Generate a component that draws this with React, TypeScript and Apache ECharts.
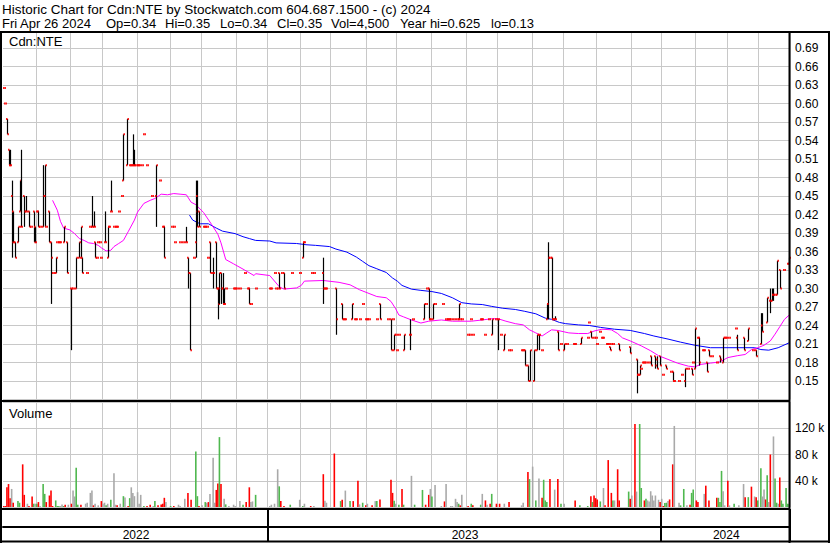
import React, { useEffect, useRef } from "react";
import * as echarts from "echarts";

// ---------- data ----------
const firstDay = "2022-05-02";
const lastDay = "2024-04-26";
const holidays = [
  "2022-05-23", "2022-07-01", "2022-08-01", "2022-09-05", "2022-10-10", "2022-12-26", "2022-12-27",
  "2023-01-02", "2023-02-20", "2023-04-07", "2023-05-22", "2023-07-03", "2023-08-07", "2023-09-04",
  "2023-10-09", "2023-12-25", "2023-12-26", "2024-01-01", "2024-02-19", "2024-03-29",
];

const headerTitle = "Historic Chart for Cdn:NTE by Stockwatch.com 604.687.1500 - (c) 2024";
const headerFields = ["Fri Apr 26 2024", "Op=0.34", "Hi=0.35", "Lo=0.34", "Cl=0.35", "Vol=4,500", "Year hi=0.625", "lo=0.13"];
const symbolLabel = "Cdn:NTE";
const volumeLabel = "Volume";

// price axis: 0.15 .. 0.69 step 0.03 ; volume axis 40 k .. 120 k
const priceMin = 0.12;
const priceMax = 0.716;
const priceStep = 0.03;
const volMax = 160000;
const volStep = 40000;

// [dayIndex, close] for single-price days, or [dayIndex, open, high, low, close]
const priceBars: number[][] = [
  [0, .625], [1, .60], [2, .575, .575, .55, .55], [3, .525, .525, .50, .50], [4, .50, .525, .50, .50],
  [5, .45, .475, .35, .375], [6, .425, .425, .375, .375], [7, .375, .375, .35, .35], [9, .375, .40, .375, .40],
  [10, .425, .475, .425, .475], [11, .40, .525, .40, .40], [13, .45, .45, .40, .425], [14, .425, .45, .425, .425],
  [16, .425, .425, .40, .40], [17, .40], [19, .425, .425, .375, .375], [20, .40, .40, .375, .375], [21, .425],
  [22, .425, .425, .40, .40], [23, .40], [25, .40, .50, .40, .45], [26, .45, .50, .40, .50], [27, .40],
  [29, .425, .425, .375, .375], [30, .375, .375, .275, .35], [31, .325], [33, .325, .35, .325, .35], [34, .375],
  [35, .375], [36, .375], [38, .375, .40, .375, .40], [40, .375, .375, .325, .325], [43, .30, .30, .20, .30],
  [44, .30], [46, .30, .35, .30, .35], [48, .35, .375, .35, .375], [49, .35, .40, .35, .40], [50, .35, .35, .325, .325],
  [53, .325], [55, .40], [56, .40, .45, .40, .40], [57, .40, .425, .40, .40], [58, .375, .375, .35, .35], [59, .35],
  [60, .375], [61, .375], [62, .35], [64, .375, .425, .375, .375], [66, .35, .40, .35, .40], [67, .40],
  [68, .425, .475, .425, .425], [70, .40], [71, .40], [72, .40], [73, .425], [75, .45], [76, .475, .55, .475, .55],
  [78, .50, .575, .50, .575], [80, .50], [81, .50], [82, .50, .55, .50, .50], [83, .50, .525, .50, .50], [84, .50],
  [85, .50], [86, .50], [88, .50], [89, .55], [91, .50], [94, .45], [97, .45, .50, .40, .50], [99, .475], [101, .40],
  [102, .40, .40, .35, .35], [107, .40], [108, .40], [109, .375], [112, .375], [114, .375], [116, .375, .40, .375, .375],
  [117, .35, .35, .30, .325], [118, .325, .325, .20, .20], [121, .35], [122, .375, .475, .35, .425],
  [123, .45, .475, .40, .40], [124, .425, .425, .40, .40], [127, .40], [128, .40], [129, .40], [130, .35],
  [131, .375, .375, .325, .325], [133, .325, .35, .30, .325], [135, .375, .375, .30, .30], [136, .30, .30, .25, .275],
  [137, .30, .325, .275, .325], [138, .325, .325, .275, .30], [139, .30, .325, .275, .275], [140, .275, .30, .275, .275],
  [141, .30], [146, .30], [147, .30], [148, .30], [150, .30], [153, .325], [155, .30], [156, .30, .30, .275, .275],
  [157, .275], [160, .30], [169, .30], [170, .30], [172, .325], [173, .30], [174, .30], [175, .325, .325, .30, .30],
  [177, .325], [178, .325, .325, .30, .30], [183, .325], [188, .325], [190, .35, .375, .35, .375], [191, .375],
  [196, .325], [197, .325], [203, .325, .35, .275, .30], [204, .30], [205, .30], [211, .30, .30, .225, .25],
  [215, .275, .275, .25, .25], [216, .25], [217, .25], [221, .25, .275, .25, .275], [223, .25], [224, .25], [226, .25],
  [228, .275], [230, .25], [231, .25], [232, .25], [237, .25], [239, .275, .275, .25, .25], [244, .25],
  [246, .25, .25, .20, .20], [247, .25], [248, .20, .225, .20, .225], [249, .225], [250, .20], [251, .225],
  [254, .20, .225, .20, .225], [258, .225, .25, .20, .225], [260, .25], [267, .25, .275, .25, .275], [268, .275],
  [269, .30], [270, .30, .30, .25, .25], [271, .25], [273, .25, .275, .25, .275], [274, .275], [279, .275], [281, .25],
  [282, .25], [283, .25], [284, .25], [286, .25], [288, .25], [289, .25, .275, .25, .275], [290, .25], [291, .25],
  [295, .225], [296, .225], [297, .25], [298, .225], [303, .25], [304, .25], [306, .225], [308, .25],
  [310, .225, .25, .225, .25], [313, .25], [314, .25, .25, .20, .25], [316, .225], [318, .20, .225, .20, .225],
  [321, .20], [322, .20], [329, .20], [330, .20], [331, .20, .20, .175, .175], [333, .175, .175, .15, .15],
  [334, .15, .20, .15, .20], [337, .15, .20, .15, .20], [339, .20, .225, .20, .225], [340, .225, .225, .20, .225],
  [342, .20], [345, .25, .275, .25, .275], [346, .275, .375, .25, .35], [347, .35], [348, .35, .35, .25, .25],
  [349, .25], [350, .25, .255, .25, .25], [352, .23, .23, .20, .20], [354, .21], [356, .20, .21, .20, .21], [358, .21],
  [362, .21], [363, .21], [367, .21, .22, .21, .22], [371, .22], [372, .245], [373, .23, .23, .22, .22], [375, .22],
  [376, .22], [377, .21], [379, .23], [380, .22], [381, .22], [383, .21], [384, .21], [385, .205, .205, .20, .20],
  [386, .21], [387, .21], [391, .21, .21, .20, .20], [398, .205, .205, .195, .195], [402, .185, .185, .13, .16],
  [403, .16], [404, .16, .175, .16, .175], [405, .17], [406, .18], [407, .18], [408, .18], [410, .18],
  [411, .19, .19, .175, .175], [414, .19, .19, .17, .175], [415, .185, .19, .17, .17], [417, .19, .19, .175, .175],
  [419, .16], [421, .175, .175, .17, .17], [424, .165], [425, .165, .165, .15, .15], [426, .15], [429, .15], [431, .16],
  [433, .15, .17, .14, .17], [435, .17], [437, .17, .17, .16, .16], [438, .18], [439, .17, .235, .17, .235], [441, .22],
  [442, .22, .22, .175, .18], [444, .20], [445, .20], [447, .18, .18, .165, .165], [448, .20, .20, .19, .19], [450, .19],
  [453, .18], [455, .19, .19, .18, .185], [457, .18, .22, .18, .22], [458, .22], [459, .22], [461, .22], [465, .235],
  [466, .22, .225, .20, .20], [470, .22, .22, .20, .20], [473, .215, .235, .215, .235], [476, .20],
  [478, .20, .20, .19, .19], [481, .21, .26, .21, .24], [482, .24, .26, .23, .23], [485, .245, .285, .245, .285],
  [487, .28, .30, .26, .28], [488, .28, .30, .28, .29], [489, .29, .30, .28, .29], [490, .29],
  [491, .29, .345, .29, .345], [493, .33, .33, .30, .30], [496, .33], [498, .34], [499, .34, .35, .34, .35],
];

// moving averages: [dayIndex, value]
const maShort: number[][] = [
  [31, .443], [34, .427], [36, .409], [38, .398], [42, .395], [45, .389], [48, .381], [51, .378], [54, .374], [57, .373],
  [60, .370], [62, .366], [65, .361], [68, .362], [70, .368], [73, .373], [76, .378], [79, .392], [83, .411], [85, .424],
  [89, .438], [93, .443], [96, .446], [100, .453], [104, .452], [108, .454], [112, .453], [116, .452], [119, .440],
  [122, .436], [127, .423], [132, .404], [136, .388], [138, .374], [141, .347], [146, .340], [153, .330], [159, .321],
  [160, .324], [169, .321], [175, .303], [178, .299], [186, .301], [189, .305], [191, .312], [203, .313], [213, .310],
  [220, .306], [226, .298], [237, .287], [243, .285], [246, .279], [249, .267], [251, .257], [254, .254], [259, .249],
  [265, .244], [270, .247], [278, .249], [285, .247], [297, .247], [304, .249], [310, .251], [314, .251], [319, .247],
  [325, .243], [330, .241], [334, .233], [338, .228], [342, .223], [345, .228], [348, .233], [352, .232], [359, .228],
  [365, .227], [371, .227], [375, .231], [380, .234], [386, .233], [390, .227], [393, .220], [398, .215], [405, .207],
  [411, .199], [416, .191], [422, .185], [428, .179], [435, .174], [439, .173], [443, .177], [449, .179], [455, .181],
  [460, .188], [466, .191], [471, .193], [475, .201], [479, .204], [483, .208], [487, .215], [490, .226], [493, .238],
  [496, .250], [499, .257],
];
const maLong: number[][] = [
  [118, .419], [120, .411], [123, .407], [125, .405], [130, .405], [135, .398], [139, .393], [147, .389], [152, .384],
  [156, .381], [160, .378], [169, .377], [173, .374], [186, .373], [192, .371], [198, .370], [207, .368], [211, .364],
  [218, .359], [224, .351], [228, .344], [232, .337], [237, .332], [243, .326], [247, .317], [250, .312], [253, .305],
  [259, .299], [265, .297], [272, .295], [278, .292], [285, .285], [291, .277], [297, .275], [304, .274], [310, .271],
  [317, .268], [325, .266], [331, .263], [338, .259], [344, .252], [348, .250], [353, .245], [357, .243], [365, .241],
  [372, .240], [379, .237], [388, .234], [398, .232], [407, .227], [413, .223], [422, .218], [430, .213], [439, .208],
  [449, .204], [477, .204], [481, .201], [486, .200], [492, .204], [499, .212],
];

// [dayIndex, volume in thousands, u=up (green) d=down (red) n=unchanged (grey)]
const volumeBars: [number, number, string][] = [
  [0, 1.5, "d"], [1, 1.5, "d"], [2, 30, "d"], [3, 35, "d"], [4, 13.5, "d"], [5, 27.5, "n"], [6, 6.5, "d"], [9, 9, "u"],
  [10, 6.5, "u"], [12, 65, "d"], [13, 18.5, "d"], [15, 5, "n"], [16, 1.5, "d"], [18, 16, "d"], [19, 5, "u"], [20, 5, "n"],
  [21, 5, "u"], [22, 7.5, "d"], [23, 1.5, "n"], [25, 35, "u"], [26, 20, "u"], [27, 7.5, "d"], [29, 17.5, "d"], [30, 25, "d"],
  [31, 1.5, "d"], [33, 10, "u"], [34, 1.5, "u"], [35, 1.5, "u"], [36, 1.5, "n"], [37, 4, "n"], [38, 1.5, "u"], [39, 3.5, "d"],
  [41, 3.5, "n"], [43, 5, "d"], [44, 25, "n"], [45, 16, "n"], [46, 60, "u"], [47, 3.5, "u"], [49, 3.5, "d"], [52, 5, "n"],
  [53, 6.5, "n"], [55, 21.5, "n"], [56, 25, "n"], [57, 2.5, "d"], [58, 5, "n"], [60, 2.5, "n"], [62, 9, "d"], [63, 5, "n"],
  [64, 6.5, "n"], [65, 2.5, "u"], [66, 5, "n"], [68, 11, "u"], [70, 51.5, "n"], [71, 3.5, "n"], [72, 2.5, "d"], [74, 5, "n"],
  [76, 16.5, "u"], [77, 14.5, "n"], [79, 1, "d"], [80, 13.5, "u"], [81, 30, "n"], [82, 21.5, "n"], [83, 16.5, "n"],
  [85, 22.5, "n"], [86, 5, "n"], [87, 18.5, "n"], [89, 1.5, "u"], [91, 1.5, "d"], [93, 3.5, "d"], [95, 1.5, "n"], [96, 9, "u"],
  [98, 2.5, "d"], [100, 4, "d"], [101, 5, "d"], [102, 14, "d"], [103, 7.5, "n"], [106, 1, "u"], [108, 1, "d"], [111, 3.5, "n"],
  [112, 1.5, "n"], [115, 12.5, "n"], [117, 21.5, "d"], [119, 11, "d"], [122, 84.5, "u"], [123, 16.5, "u"], [124, 1, "d"],
  [126, 2.5, "n"], [128, 7.5, "u"], [129, 6.5, "n"], [130, 7.5, "d"], [131, 20, "n"], [133, 75, "n"], [134, 6.5, "n"],
  [135, 26, "d"], [136, 36, "d"], [137, 106.5, "u"], [138, 35, "d"], [140, 12.5, "n"], [141, 4, "u"], [143, 1.5, "n"],
  [146, 3.5, "n"], [147, 1, "n"], [150, 9, "n"], [152, 3.5, "u"], [154, 7.5, "d"], [156, 30, "d"], [157, 7.5, "n"],
  [158, 8.5, "n"], [160, 18.5, "u"], [169, 1.5, "n"], [170, 3.5, "n"], [172, 5, "n"], [174, 57.5, "n"], [175, 31.5, "u"],
  [176, 9, "d"], [178, 1.5, "d"], [182, 3.5, "u"], [188, 11, "n"], [190, 1.5, "u"], [191, 5, "n"], [195, 0.8, "d"],
  [197, 0.8, "n"], [203, 50, "d"], [204, 9.5, "n"], [205, 6.5, "n"], [210, 81.5, "d"], [214, 9, "u"], [215, 11, "d"],
  [217, 25, "n"], [220, 9, "u"], [222, 9, "d"], [225, 40, "d"], [226, 4, "n"], [228, 6.5, "u"], [230, 2.5, "d"], [231, 5, "n"],
  [234, 2.5, "d"], [236, 9, "n"], [237, 9, "u"], [239, 11.5, "d"], [246, 41.5, "d"], [247, 21.5, "d"], [248, 9.5, "u"],
  [249, 5, "n"], [251, 3.5, "u"], [253, 27.5, "d"], [254, 3.5, "u"], [259, 47.5, "n"], [261, 3.5, "u"],
  [266, 26, "u"], [268, 3.5, "d"], [270, 18.5, "d"], [271, 27.5, "n"], [272, 16, "u"], [274, 33.5, "n"], [278, 1, "n"],
  [280, 8.5, "d"], [281, 35, "n"], [284, 1, "n"], [285, 1, "n"], [287, 12.5, "n"], [288, 7.5, "n"], [289, 5, "u"],
  [290, 2.5, "d"], [291, 18.5, "n"], [295, 1, "d"], [297, 5, "u"], [298, 2.5, "d"], [303, 3.5, "u"], [304, 20, "n"],
  [306, 10, "d"], [307, 3.5, "n"], [309, 5, "d"], [310, 20, "u"], [313, 5, "d"], [315, 5, "d"], [318, 5, "n"], [321, 7.5, "d"],
  [329, 2.5, "n"], [330, 6.5, "n"], [333, 53.5, "d"], [334, 42.5, "u"], [336, 61.5, "n"], [338, 10, "u"], [340, 43.5, "n"],
  [342, 14, "d"], [343, 41.5, "u"], [344, 10, "u"], [345, 7.5, "u"], [347, 42.5, "d"], [350, 26.5, "n"], [352, 42.5, "d"],
  [354, 5, "u"], [356, 5, "n"], [363, 10, "d"], [366, 2.5, "u"], [371, 1.5, "u"], [373, 16.5, "d"], [374, 7.5, "u"],
  [375, 17.5, "d"], [376, 13.5, "d"], [377, 11.5, "d"], [379, 8.5, "u"], [381, 29, "n"], [382, 2.5, "d"], [384, 71.5, "d"],
  [386, 21.5, "d"], [387, 10, "u"], [388, 10, "n"], [390, 57.5, "d"], [391, 10, "d"], [397, 23.5, "u"], [398, 12.5, "d"],
  [399, 17.5, "n"], [401, 126.5, "d"], [402, 23.5, "n"], [404, 126.5, "u"], [405, 29, "u"], [407, 10, "d"], [408, 12.5, "u"],
  [409, 10, "n"], [410, 8.5, "n"], [411, 24, "n"], [412, 17.5, "n"], [413, 10, "n"], [414, 17.5, "n"], [416, 11, "n"],
  [417, 7.5, "d"], [418, 12.5, "n"], [419, 1, "d"], [420, 6, "u"], [421, 6.5, "u"], [422, 9, "n"], [423, 11.5, "d"],
  [425, 65, "d"], [426, 123.5, "n"], [429, 6.5, "n"], [430, 2.5, "u"], [432, 27.5, "u"], [434, 2.5, "n"], [436, 3.5, "d"],
  [437, 21.5, "u"], [438, 26.5, "u"], [440, 10, "d"], [441, 7.5, "d"], [445, 20, "n"], [446, 32.5, "d"], [448, 10, "d"],
  [453, 14, "d"], [454, 14, "u"], [455, 7.5, "u"], [456, 55, "u"], [457, 24, "n"], [458, 2.5, "n"], [460, 40, "d"],
  [461, 2.5, "n"], [464, 5, "u"], [467, 2.5, "n"], [470, 35, "n"], [471, 15, "d"], [473, 15, "u"], [475, 31, "d"],
  [477, 16, "n"], [478, 15, "d"], [479, 10, "u"], [481, 59, "u"], [482, 16, "n"], [483, 26.5, "n"], [484, 11.5, "d"],
  [485, 48.5, "u"], [486, 7.5, "n"], [487, 80, "d"], [489, 107.5, "n"], [490, 43.5, "u"], [491, 6.5, "u"], [492, 5, "n"],
  [493, 45, "d"], [494, 10, "u"], [495, 5, "u"], [497, 29, "u"], [498, 5, "u"], [499, 4.5, "u"],
];

// ---------- helpers ----------
function buildTradingDays(): string[] {
  const out: string[] = [];
  const hol = new Set(holidays);
  const [y0, m0, d0] = firstDay.split("-").map(Number);
  const [y1, m1, d1] = lastDay.split("-").map(Number);
  let t = Date.UTC(y0, m0 - 1, d0);
  const end = Date.UTC(y1, m1 - 1, d1);
  while (t <= end) {
    const dt = new Date(t);
    const wd = dt.getUTCDay();
    const s = dt.toISOString().slice(0, 10);
    if (wd !== 0 && wd !== 6 && !hol.has(s)) out.push(s);
    t += 86400000;
  }
  return out;
}

const FONT = "'Liberation Sans', Arial, Helvetica, sans-serif";
const GRID_GREY = "#c8c8c8";
const VOL_COLORS: Record<string, string> = { u: "#4fb84f", d: "#ff0000", n: "#a9a9a9" };

export default function App() {
  const ref = useRef<HTMLDivElement>(null);
  useEffect(() => {
    if (!ref.current) return;
    const chart = echarts.init(ref.current, undefined, { renderer: "svg" });
    const days = buildTradingDays();
    const monthStarts = new Set<number>();
    const yearStarts = new Set<number>();
    const yearRange: Record<string, number[]> = {};
    days.forEach((d, i) => {
      const y = d.slice(0, 4);
      if (!yearRange[y]) yearRange[y] = [i, i];
      yearRange[y][1] = i;
      if (i > 0) {
        if (d.slice(0, 7) !== days[i - 1].slice(0, 7)) monthStarts.add(i);
        if (y !== days[i - 1].slice(0, 4)) yearStarts.add(i);
      }
    });
    const yearMids = new Set<number>(Object.values(yearRange).map(([a, b]) => Math.round((a + b) / 2)));

    const ohlc = priceBars.map((r) => (r.length === 2 ? [r[0], r[1], r[1], r[1], r[1]] : r));
    const vols = volumeBars.map(([i, k, c]) => ({ value: [i, k * 1000], itemStyle: { color: VOL_COLORS[c] } }));

    const hiddenCat = (gridIndex: number) => ({
      gridIndex,
      type: "category",
      data: days,
      boundaryGap: true,
      axisLine: { show: false },
      axisTick: { show: false },
      axisLabel: { show: false },
      splitLine: { show: true, interval: (i: number) => monthStarts.has(i), lineStyle: { color: GRID_GREY, width: 1 } },
    });

    const lineX2 = [2, 106, 165, 220, 277, 331, 400, 491];
    const frame = [
      [0, 31, 830, 2], [0, 31, 2, 512], [788.5, 31, 2, 512], [828, 31, 2, 512],
      [0, 400, 790, 2], [0, 508, 790, 2], [0, 540.5, 830, 2],
    ];

    const option: any = {
      animation: false,
      backgroundColor: "#ffffff",
      textStyle: { fontFamily: FONT },
      grid: [
        { left: 3, top: 32, width: 787, height: 367.5 },
        { left: 3, top: 402, width: 787, height: 105 },
        { left: 3, top: 509, width: 787, height: 18 },
      ],
      xAxis: [
        hiddenCat(0),
        hiddenCat(1),
        {
          gridIndex: 2,
          type: "category",
          data: days,
          boundaryGap: true,
          axisLine: { show: true, onZero: false, lineStyle: { color: "#000", width: 2 } },
          axisTick: { show: true, interval: (i: number) => yearStarts.has(i), length: 14, lineStyle: { color: "#000", width: 2 } },
          axisLabel: {
            show: true,
            interval: (i: number) => yearMids.has(i),
            formatter: (v: string) => v.slice(0, 4),
            margin: 2,
            fontSize: 12,
            color: "#000",
            fontFamily: FONT,
          },
          splitLine: { show: true, interval: (i: number) => yearStarts.has(i), lineStyle: { color: "#000", width: 2 } },
        },
      ],
      yAxis: [
        {
          gridIndex: 0,
          type: "value",
          position: "right",
          min: priceMin,
          max: priceMax,
          interval: priceStep,
          axisLine: { show: false },
          axisTick: { show: false },
          axisLabel: {
            margin: 5,
            fontSize: 12,
            color: "#000",
            fontFamily: FONT,
            formatter: (v: number) => (v < 0.14 || v > 0.7 ? "" : v.toFixed(2)),
          },
          splitLine: { show: true, lineStyle: { color: GRID_GREY, width: 1 } },
        },
        {
          gridIndex: 1,
          type: "value",
          position: "right",
          min: 0,
          max: volMax,
          interval: volStep,
          axisLine: { show: false },
          axisTick: { show: false },
          axisLabel: {
            margin: 5,
            fontSize: 12,
            color: "#000",
            fontFamily: FONT,
            formatter: (v: number) => (v > 0 && v < volMax ? v / 1000 + " k" : ""),
          },
          splitLine: { show: true, lineStyle: { color: GRID_GREY, width: 1 } },
        },
        { gridIndex: 2, type: "value", show: false, min: 0, max: 1 },
      ],
      series: [
        {
          type: "line",
          xAxisIndex: 0,
          yAxisIndex: 0,
          data: maLong,
          symbol: "none",
          lineStyle: { color: "#0000ff", width: 1 },
          z: 2,
        },
        {
          type: "line",
          xAxisIndex: 0,
          yAxisIndex: 0,
          data: maShort,
          symbol: "none",
          lineStyle: { color: "#ff00ff", width: 1 },
          z: 2,
        },
        {
          type: "custom",
          xAxisIndex: 0,
          yAxisIndex: 0,
          data: ohlc,
          encode: { x: 0, y: [1, 2, 3, 4] },
          z: 3,
          renderItem: (_p: any, api: any) => {
            const i = api.value(0);
            const pO = api.coord([i, api.value(1)]);
            const pH = api.coord([i, api.value(2)]);
            const pL = api.coord([i, api.value(3)]);
            const pC = api.coord([i, api.value(4)]);
            const x = Math.round(pH[0]) + 0.5;
            const children: any[] = [];
            if (Math.abs(pL[1] - pH[1]) > 0.5) {
              children.push({
                type: "line",
                shape: { x1: x, y1: pH[1], x2: x, y2: pL[1] },
                style: { stroke: "#000", lineWidth: 1.2 },
              });
            }
            children.push({ type: "rect", shape: { x: x - 1.4, y: pO[1] - 1, width: 1.4, height: 2 }, style: { fill: "#ff0000" } });
            children.push({ type: "rect", shape: { x: x, y: pC[1] - 1, width: 1.4, height: 2 }, style: { fill: "#ff0000" } });
            return { type: "group", children };
          },
        },
        {
          type: "bar",
          xAxisIndex: 1,
          yAxisIndex: 1,
          data: vols,
          barWidth: 1.6,
          barMinHeight: 1,
        },
      ],
      graphic: [
        ...frame.map(([x, y, w, h]) => ({
          type: "rect",
          silent: true,
          z: 100,
          shape: { x, y, width: w, height: h },
          style: { fill: "#000" },
        })),
        {
          type: "text",
          x: 2,
          y: 9,
          z: 100,
          style: { text: headerTitle, fontSize: 13.5, fontFamily: FONT, fill: "#000", verticalAlign: "middle" },
        },
        ...headerFields.map((t, k) => ({
          type: "text",
          x: lineX2[k],
          y: 23.5,
          z: 100,
          style: { text: t, fontSize: 13, fontFamily: FONT, fill: "#000", verticalAlign: "middle" },
        })),
        {
          type: "text",
          x: 9,
          y: 41,
          z: 100,
          style: { text: symbolLabel, fontSize: 13, fontFamily: FONT, fill: "#000", verticalAlign: "middle" },
        },
        {
          type: "text",
          x: 9,
          y: 413.5,
          z: 100,
          style: { text: volumeLabel, fontSize: 13, fontFamily: FONT, fill: "#000", verticalAlign: "middle" },
        },
      ],
    };
    chart.setOption(option);
    return () => chart.dispose();
  }, []);
  return <div ref={ref} style={{ position: "fixed", left: 0, top: 0, width: 830, height: 543, background: "#fff" }} />;
}
